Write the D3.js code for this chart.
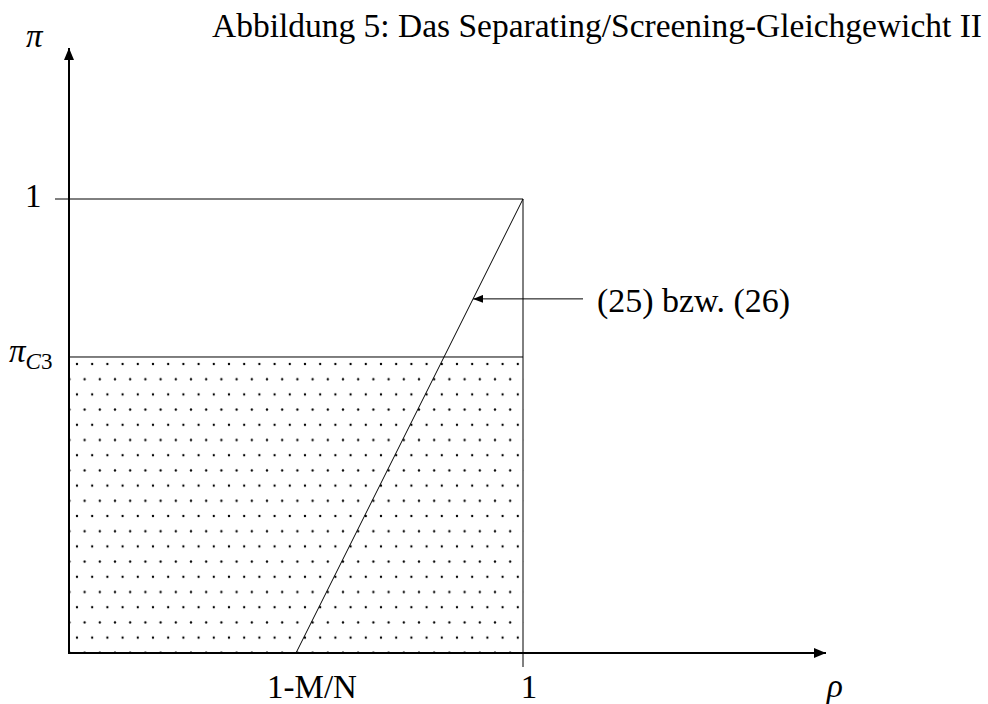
<!DOCTYPE html>
<html>
<head>
<meta charset="utf-8">
<script src="https://cdn.jsdelivr.net/npm/d3@7"></script>
<style>
  body { margin: 0; background: #fff; }
  text { font-family: "Liberation Serif", "DejaVu Serif", serif; fill: #000; }
</style>
</head>
<body>
<div id="chart"></div>
<script>
// DATA
var title = "Abbildung 5: Das Separating/Screening-Gleichgewicht II";
var xTickValues = [0.5, 1];
var xTickLabels = ["1-M/N", "1"];
var piC3 = 0.652;
var curve = [[0.5, 0], [1, 1]]; // (25) bzw. (26)
var curveLabel = "(25) bzw. (26)";
var labelAt = 0.78; // pi where the pointer hits the curve

var width = 988, height = 704;
var svg = d3.select("#chart").append("svg")
  .attr("width", width).attr("height", height);

var x = d3.scaleLinear().domain([0, 1]).range([69, 523]);
var y = d3.scaleLinear().domain([0, 1]).range([653, 199]);

var defs = svg.append("defs");
var pat = defs.append("pattern")
  .attr("id", "dots")
  .attr("patternUnits", "userSpaceOnUse")
  .attr("x", 77).attr("y", 364)
  .attr("width", 15.2).attr("height", 30.4);
[[0, 0], [15.2, 0], [7.6, 15.2], [0, 30.4], [15.2, 30.4]].forEach(function (p) {
  pat.append("circle").attr("cx", p[0]).attr("cy", p[1]).attr("r", 1.15).attr("fill", "#000");
});

defs.append("marker")
  .attr("id", "head")
  .attr("viewBox", "0 0 12 10")
  .attr("refX", 12).attr("refY", 5)
  .attr("markerWidth", 12).attr("markerHeight", 10)
  .attr("markerUnits", "userSpaceOnUse")
  .attr("orient", "auto")
  .append("path").attr("d", "M0,0 L12,5 L0,10 Z").attr("fill", "#000");
defs.append("marker")
  .attr("id", "small")
  .attr("viewBox", "0 0 10 8")
  .attr("refX", 10).attr("refY", 4)
  .attr("markerWidth", 10).attr("markerHeight", 8)
  .attr("markerUnits", "userSpaceOnUse")
  .attr("orient", "auto")
  .append("path").attr("d", "M0,0 L10,4 L0,8 Z").attr("fill", "#000");

// shaded region below pi_C3
svg.append("rect")
  .attr("x", x(0)).attr("y", y(piC3))
  .attr("width", x(1) - x(0) + 1).attr("height", y(0) - y(piC3) + 1)
  .attr("fill", "url(#dots)");

// horizontal lines
svg.append("line")
  .attr("x1", x(0) - 14).attr("x2", x(1))
  .attr("y1", y(1)).attr("y2", y(1))
  .attr("stroke", "#000").attr("stroke-width", 1);
svg.append("line")
  .attr("x1", x(0)).attr("x2", x(1))
  .attr("y1", y(piC3)).attr("y2", y(piC3))
  .attr("stroke", "#000").attr("stroke-width", 1);

// vertical at rho = 1
svg.append("line")
  .attr("x1", x(1)).attr("x2", x(1))
  .attr("y1", y(1)).attr("y2", y(0) + 14)
  .attr("stroke", "#000").attr("stroke-width", 1);

// curve
svg.append("path")
  .datum(curve)
  .attr("d", d3.line().x(function (d) { return x(d[0]); }).y(function (d) { return y(d[1]); }))
  .attr("fill", "none").attr("stroke", "#000").attr("stroke-width", 1);

// axes
svg.append("line")
  .attr("x1", x(0) - 1).attr("x2", 826)
  .attr("y1", y(0)).attr("y2", y(0))
  .attr("stroke", "#000").attr("stroke-width", 2)
  .attr("marker-end", "url(#head)");
svg.append("line")
  .attr("x1", x(0)).attr("x2", x(0))
  .attr("y1", y(0) + 1).attr("y2", 48)
  .attr("stroke", "#000").attr("stroke-width", 2)
  .attr("marker-end", "url(#head)");

// pointer to curve
var px = x(curve[0][0] + (curve[1][0] - curve[0][0]) * labelAt);
svg.append("line")
  .attr("x1", 583).attr("x2", px)
  .attr("y1", y(labelAt)).attr("y2", y(labelAt))
  .attr("stroke", "#000").attr("stroke-width", 1)
  .attr("marker-end", "url(#small)");
svg.append("text")
  .attr("x", 597).attr("y", y(labelAt) + 13)
  .attr("font-size", 33)
  .attr("textLength", 193).attr("lengthAdjust", "spacingAndGlyphs")
  .text(curveLabel);

// x tick labels
svg.selectAll(".xl")
  .data(xTickValues)
  .enter().append("text")
  .attr("class", "xl")
  .attr("x", function (d) { return x(d); })
  .attr("dx", function (d, i) { return i === 0 ? 16 : 6; })
  .attr("y", 698)
  .attr("text-anchor", "middle")
  .attr("font-size", 33)
  .text(function (d, i) { return xTickLabels[i]; });

// y tick labels
svg.append("text")
  .attr("x", 25).attr("y", 207)
  .attr("font-size", 33).text("1");
var c3 = svg.append("text")
  .attr("x", 9).attr("y", 362)
  .attr("font-size", 33);
c3.append("tspan").attr("font-style", "italic").text("π");
c3.append("tspan").attr("font-style", "italic").attr("font-size", 23).attr("dy", 7).text("C");
c3.append("tspan").attr("font-size", 23).text("3");

// axis names
svg.append("text")
  .attr("x", 26).attr("y", 47)
  .attr("font-size", 33).attr("font-style", "italic").text("π");
svg.append("text")
  .attr("x", 827).attr("y", 697)
  .attr("font-size", 33).attr("font-style", "italic").text("ρ");

// title
svg.append("text")
  .attr("x", 212).attr("y", 37)
  .attr("font-size", 33)
  .attr("textLength", 770).attr("lengthAdjust", "spacingAndGlyphs")
  .text(title);
</script>
</body>
</html>
